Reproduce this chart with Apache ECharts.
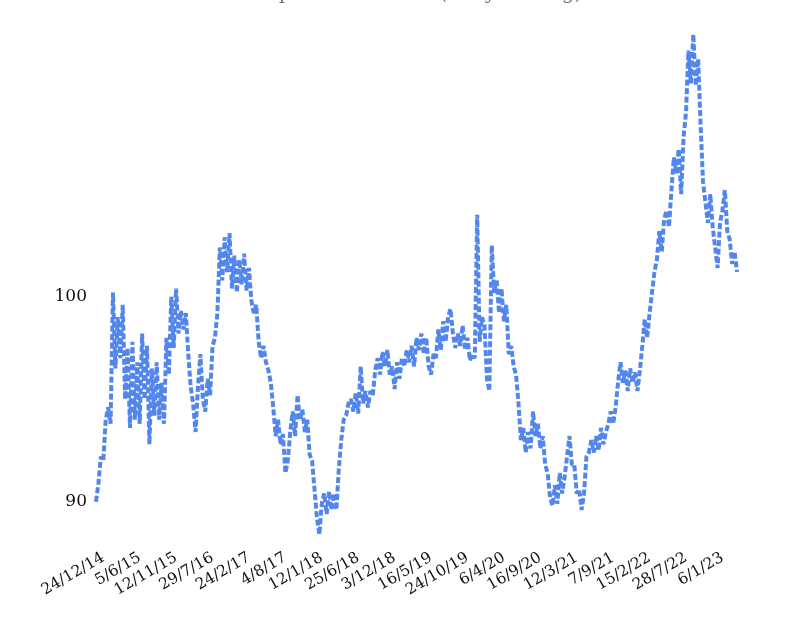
<!DOCTYPE html>
<html>
<head>
<meta charset="utf-8">
<script src="https://cdn.jsdelivr.net/npm/echarts@6/dist/echarts.min.js"></script>
<style>
html,body{margin:0;padding:0;background:#fff;}
#chart{width:786px;height:622px;}
</style>
</head>
<body>
<div id="chart"></div>
<script>
// Tick labels shown on the x axis (every 15th sampled point, starting at point 3)
const tickLabels = ["24/12/14","5/6/15","12/11/15","29/7/16","24/2/17","4/8/17","12/1/18","25/6/18","3/12/18","16/5/19","24/10/19","6/4/20","16/9/20","12/3/21","7/9/21","15/2/22","28/7/22","6/1/23"];
const labelStep = 15;
const labelStart = 3;
const yTicks = [90, 100];

const values = [
90.0,90.9,92.2,92.0,94.0,94.6,93.8,100.2,96.5,99.0,
97.0,99.6,95.0,97.5,93.6,97.8,94.0,96.8,93.8,98.2,
95.0,97.6,92.8,96.5,94.2,96.8,94.0,95.8,93.8,98.0,
96.2,100.0,97.5,100.4,98.2,99.3,98.4,99.2,97.2,95.6,
94.8,93.4,95.6,97.2,95.0,94.4,96.0,95.2,97.6,98.0,
99.2,102.4,100.8,102.9,101.2,103.1,100.4,102.0,100.2,101.8,
100.6,102.1,100.3,101.4,99.8,99.2,99.6,97.8,97.0,97.6,
96.8,96.4,95.8,94.6,93.2,94.0,92.8,93.3,91.4,92.0,
93.4,94.4,93.2,95.2,94.0,94.5,93.4,94.0,92.3,92.0,
90.6,89.2,88.4,89.9,90.4,89.4,90.5,89.6,90.4,89.6,
91.6,93.0,94.0,94.2,94.8,95.0,94.4,95.3,94.3,96.6,
94.8,95.4,94.6,95.4,95.2,96.4,97.0,96.2,97.3,96.6,
97.4,96.2,96.6,95.5,96.8,96.0,97.0,96.6,97.4,96.8,
97.6,96.6,98.0,97.4,98.2,97.2,98.0,96.6,96.2,97.2,
97.0,98.4,97.4,98.8,97.8,99.0,99.4,98.2,97.5,98.2,
97.6,98.6,97.4,98.0,96.9,97.2,97.0,104.0,97.8,99.0,
98.6,96.0,95.4,102.5,100.2,100.8,99.2,100.4,98.8,99.6,
97.2,97.6,96.6,96.2,94.8,93.0,93.6,92.4,93.4,92.6,
94.4,93.2,93.8,92.6,93.2,91.8,91.4,90.2,89.8,90.8,
89.9,91.4,90.4,91.2,92.2,93.2,91.8,91.8,90.4,90.6,
89.6,90.4,92.2,92.4,93.0,92.4,93.2,92.5,93.6,92.8,
93.4,93.8,94.4,93.8,94.6,95.8,96.8,95.8,96.4,95.4,
96.5,95.8,96.3,95.4,96.4,97.6,98.9,98.0,99.2,100.2,
101.2,101.8,103.2,102.2,103.8,104.2,103.4,105.2,106.8,106.0,
107.2,105.0,107.8,109.0,112.0,110.4,112.8,110.3,111.6,108.4,
105.6,104.6,103.6,105.0,103.4,102.4,101.4,103.6,104.2,105.2,
103.2,102.8,101.6,102.2,101.2
];

const categories = values.map((v, i) => {
  const k = (i - labelStart) / labelStep;
  return (Number.isInteger(k) && k >= 0 && tickLabels[k]) ? tickLabels[k] : ('#' + i);
});

const chart = echarts.init(document.getElementById('chart'), null, {renderer: 'canvas'});
chart.setOption({
  animation: false,
  backgroundColor: '#ffffff',
  title: {
    text: 'US Dollar Index price over time (daily closing)',
    left: 105,
    top: -21,
    textStyle: {fontFamily: 'DejaVu Serif', fontSize: 20, fontWeight: 'normal', color: '#777777'}
  },
  grid: {left: 96, right: 49, top: 30.2, bottom: 79.3, containLabel: false},
  xAxis: {
    type: 'category',
    data: categories,
    boundaryGap: false,
    axisLine: {show: false},
    axisTick: {show: false},
    splitLine: {show: false},
    axisLabel: {
      interval: function (index) { return index >= labelStart && (index - labelStart) % labelStep === 0; },
      rotate: 30,
      margin: 14,
      color: '#111111',
      fontFamily: 'DejaVu Serif',
      fontSize: 15.5
    }
  },
  yAxis: {
    type: 'value',
    min: 88,
    max: 113,
    axisLine: {show: false},
    axisTick: {show: false},
    splitLine: {show: false},
    axisLabel: {
      customValues: yTicks,
      margin: 9,
      color: '#111111',
      fontFamily: 'DejaVu Serif',
      fontSize: 17
    }
  },
  series: [{
    type: 'line',
    data: values,
    showSymbol: false,
    symbol: 'none',
    lineStyle: {color: '#5386ec', width: 4, type: [6, 2.5]}
  }]
});
</script>
</body>
</html>
